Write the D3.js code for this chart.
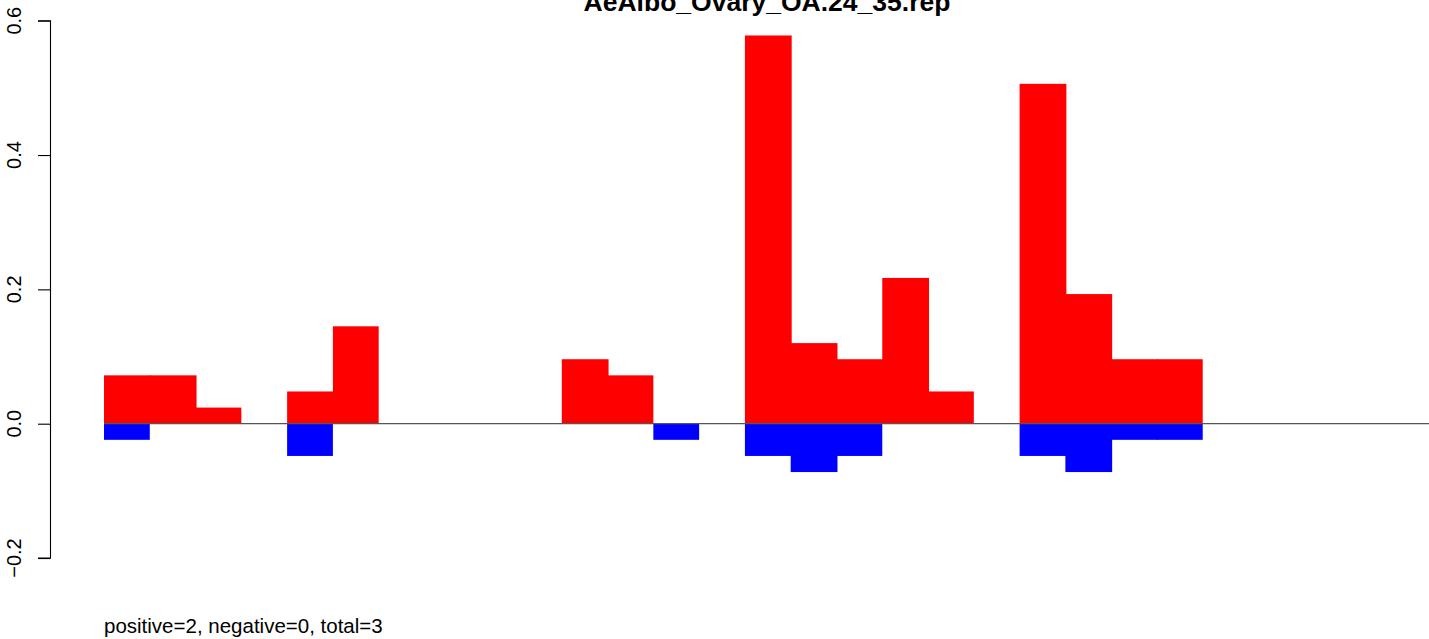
<!DOCTYPE html>
<html>
<head>
<meta charset="utf-8">
<script src="https://cdn.jsdelivr.net/npm/d3@7"></script>
<style>
  html, body { margin: 0; padding: 0; background: #ffffff; }
  svg { display: block; }
  text { font-family: "Liberation Sans", Arial, sans-serif; fill: #000; }
</style>
</head>
<body>
<script>
// ---- data ----
const title = "AeAlbo_Ovary_OA.24_35.rep";
const subtitle = "positive=2, negative=0, total=3";
const bins = ["1","2","3","4","5","6","7","8","9","10","11","12","13","14","15","16","17","18","19","20","21","22","23","24","25","26","27","28","29"];
const positiveValues = [0.072, 0.072, 0.024, 0, 0.048, 0.145, 0, 0, 0, 0, 0.096, 0.072, 0, 0, 0.578, 0.120, 0.096, 0.217, 0.048, 0, 0.506, 0.193, 0.096, 0.096, 0, 0, 0, 0, 0];
const negativeValues = [0.024, 0, 0, 0, 0.048, 0, 0, 0, 0, 0, 0, 0, 0.024, 0, 0.048, 0.072, 0.048, 0, 0, 0, 0.048, 0.072, 0.024, 0.024, 0, 0, 0, 0, 0];
const yTicks = [-0.2, 0, 0.2, 0.4, 0.6];
const yTickLabels = ["\u22120.2", "0.0", "0.2", "0.4", "0.6"];

// ---- layout ----
const W = 1429, H = 639;
const svg = d3.select("body").append("svg").attr("width", W).attr("height", H);

const x = d3.scaleBand().domain(bins).range([104, 104 + 45.78 * bins.length]).padding(0);
const y = d3.scaleLinear().domain([0, 0.6]).range([423.7, 20.7]);

// positive bars
svg.append("g").selectAll("rect.pos")
  .data(bins.map((b, i) => ({ b, v: positiveValues[i], next: positiveValues[i + 1] || 0 })).filter(d => d.v > 0))
  .join("rect")
  .attr("x", d => x(d.b))
  .attr("width", d => x.bandwidth() + (d.next > 0 ? 1 : 0))
  .attr("y", d => y(d.v))
  .attr("height", d => y(0) - y(d.v))
  .attr("fill", "#ff0000");

// negative bars
svg.append("g").selectAll("rect.neg")
  .data(bins.map((b, i) => ({ b, v: negativeValues[i], next: negativeValues[i + 1] || 0 })).filter(d => d.v > 0))
  .join("rect")
  .attr("x", d => x(d.b))
  .attr("width", d => x.bandwidth() + (d.next > 0 ? 1 : 0))
  .attr("y", y(0))
  .attr("height", d => y(-d.v) - y(0))
  .attr("fill", "#0000ff");

// zero line
svg.append("line")
  .attr("x1", x(bins[0])).attr("x2", W)
  .attr("y1", y(0)).attr("y2", y(0))
  .attr("stroke", "#555").attr("stroke-width", 1.2);

// y axis
const axisG = svg.append("g").attr("transform", "translate(50.5,0)");
const yAxis = d3.axisLeft(y).tickValues(yTicks).tickSize(12.5).tickFormat("");
axisG.call(yAxis);
axisG.select(".domain").attr("d", `M-12.5,${y(0.6)}H0V${y(-0.2)}H-12.5`).attr("stroke", "#000").attr("stroke-width", 1.1).attr("fill", "none");
axisG.selectAll(".tick line").attr("stroke", "#000").attr("stroke-width", 1.1);

svg.append("g").selectAll("text.ylab")
  .data(yTicks)
  .join("text")
  .attr("transform", (d) => `translate(21,${y(d)}) rotate(-90)`)
  .attr("text-anchor", "middle")
  .attr("font-size", 20)
  .text((d, i) => yTickLabels[i]);

// title (cut off at the top edge, as in the reference)
svg.append("text")
  .attr("x", 767).attr("y", 11)
  .attr("text-anchor", "middle")
  .attr("font-size", 26.5)
  .attr("font-weight", "bold")
  .text(title);

// subtitle
svg.append("text")
  .attr("x", 104).attr("y", 633)
  .attr("font-size", 20.5)
  .text(subtitle);
</script>
</body>
</html>
